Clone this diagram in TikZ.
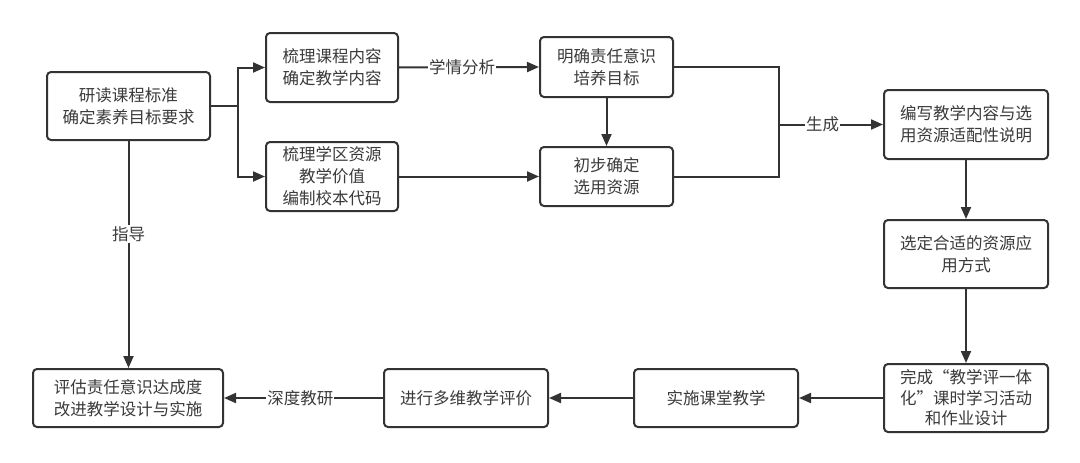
\documentclass[tikz,border=0pt]{standalone}
\usepackage{fontspec}
\setmainfont{Noto Sans CJK SC}
\usetikzlibrary{arrows.meta}
\definecolor{ln}{HTML}{333333}
\definecolor{tx}{HTML}{3A3A3A}
\begin{document}
\begin{tikzpicture}[x=1pt,y=-1pt,
  box/.style={draw=ln,line width=2pt,rounded corners=4pt,fill=white,text=tx,
    align=center,inner sep=0pt,font=\fontsize{16.5}{22}\selectfont},
  conn/.style={draw=ln,line width=2pt},
  arr/.style={conn,-{Triangle[length=12pt,width=10pt]}},
  lbl/.style={fill=white,text=tx,inner sep=1pt,font=\fontsize{16.5}{20}\selectfont}]
\useasboundingbox (0,0) rectangle (1080,463);
\node[box,minimum width=163pt,minimum height=68pt] (A) at (128.5,106) {研读课程标准\\确定素养目标要求};
\node[box,minimum width=132pt,minimum height=69pt] (B) at (332,67.5) {梳理课程内容\\确定教学内容};
\node[box,minimum width=132pt,minimum height=69pt] (C) at (332,176.5) {梳理学区资源\\教学价值\\编制校本代码};
\node[box,minimum width=133pt,minimum height=60pt] (D) at (606.5,67) {明确责任意识\\培养目标};
\node[box,minimum width=133pt,minimum height=59pt] (E) at (606.5,176.5) {初步确定\\选用资源};
\node[box,minimum width=164pt,minimum height=69pt] (F) at (966,124.5) {编写教学内容与选\\用资源适配性说明};
\node[box,minimum width=164pt,minimum height=68pt] (G) at (966,254) {选定合适的资源应\\用方式};
\node[box,minimum width=164pt,minimum height=68pt,font=\fontsize{16.5}{20.5}\selectfont] (H) at (966,398) {完成“教学评一体\\化”课时学习活动\\和作业设计};
\node[box,minimum width=164pt,minimum height=58pt] (I) at (716,398) {实施课堂教学};
\node[box,minimum width=164pt,minimum height=58pt] (J) at (466,398) {进行多维教学评价};
\node[box,minimum width=190pt,minimum height=58pt] (K) at (128,398) {评估责任意识达成度\\改进教学设计与实施};
\coordinate (br) at (238,106);
\coordinate (mg) at (779,124.5);
% branches from A
\draw[conn] (A.east) -- (br);
\draw[arr] (br) |- (B.west);
\draw[arr] (br) |- (C.west);
\draw[arr] (B.east) -- node[lbl,pos=0.45]{学情分析} (D.west);
\draw[arr] (C.east) -- (E.west);
\draw[arr] (D.south) -- (E.north);
\draw[conn] (D.east) -| (mg);
\draw[conn] (E.east) -| (mg);
\draw[arr] (mg) -- node[lbl,pos=0.42]{生成} (F.west);
\draw[arr] (F.south) -- (G.north);
\draw[arr] (G.south) -- (H.north);
\draw[arr] (H.west) -- (I.east);
\draw[arr] (I.west) -- (J.east);
\draw[arr] (J.west) -- node[lbl,pos=0.52]{深度教研} (K.east);
\draw[arr] (A.south) -- node[lbl,pos=0.41]{指导} (A.south |- K.north);
\end{tikzpicture}
\end{document}
